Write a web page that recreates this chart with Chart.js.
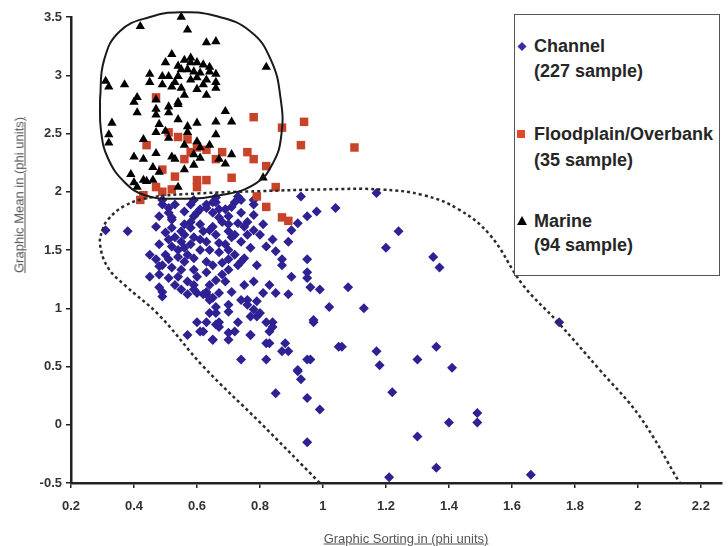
<!DOCTYPE html>
<html><head><meta charset="utf-8">
<script src="https://cdn.jsdelivr.net/npm/chart.js@4.4.1/dist/chart.umd.min.js"></script>
<style>
html,body{margin:0;padding:0;background:#fff;}
#wrap{position:relative;width:728px;height:546px;overflow:hidden;font-family:"Liberation Sans",Arial,sans-serif;background:#fff;}
canvas{position:absolute;left:0;top:0;}
.ttl{position:absolute;color:#555;font-size:13px;text-decoration:underline;white-space:nowrap;}
#xt{left:406px;top:538px;transform:translate(-50%,-50%);}
#yt{left:19px;top:195px;transform:translate(-50%,-50%) rotate(-90deg);}
#legend{position:absolute;left:514px;top:14px;width:206px;height:262px;border:1.5px solid #555;background:#fff;box-sizing:border-box;}
.li{position:absolute;left:19px;font-weight:bold;font-size:18px;color:#262626;line-height:24px;white-space:nowrap;}
#legend svg{position:absolute;left:0;top:0;}
</style></head>
<body>
<div id="wrap">
<canvas id="c" width="728" height="546"></canvas>
<div class="ttl" id="xt"></div>
<div class="ttl" id="yt"></div>
<div id="legend"></div>
</div>
<script>
// ---------- data ----------
const xTicks = [0.2,0.4,0.6,0.8,1.0,1.2,1.4,1.6,1.8,2.0,2.2];
const xTickLabels = ['0.2','0.4','0.6','0.8','1','1.2','1.4','1.6','1.8','2','2.2'];
const yTicks = [-0.5,0,0.5,1,1.5,2,2.5,3,3.5];
const yTickLabels = ['-0.5','0','0.5','1','1.5','2','2.5','3','3.5'];
const xTitle = 'Graphic Sorting in (phi units)';
const yTitle = 'Graphic Mean in (phi units)';
const seriesNames = ['Channel','Floodplain/Overbank','Marine'];
const seriesCounts = ['(227 sample)','(35 sample)','(94 sample)'];

const channelPoints = [
[0.31,1.67],[0.38,1.66],[0.45,1.46],[0.49,1.89],[0.51,1.86],[0.48,1.79],[0.52,1.78],[0.47,1.70],[0.52,1.69],[0.55,1.66],
[0.53,1.61],[0.55,1.57],[0.52,1.53],[0.56,1.52],[0.50,1.46],[0.54,1.44],[0.49,1.37],[0.52,1.35],[0.48,1.29],[0.51,1.26],
[0.54,1.27],[0.57,1.23],[0.58,1.89],[0.59,1.79],[0.63,1.86],[0.58,1.69],[0.62,1.66],[0.59,1.61],[0.63,1.57],[0.65,1.91],
[0.67,1.85],[0.65,1.70],[0.68,1.74],[0.70,1.79],[0.72,1.91],[0.74,1.93],[0.64,1.50],[0.67,1.48],[0.63,1.40],[0.65,1.37],
[0.68,1.39],[0.70,1.42],[0.59,1.33],[0.60,1.27],[0.66,1.24],[0.69,1.23],[0.72,1.63],[0.74,1.57],[0.72,1.46],[0.74,1.40],
[0.57,1.12],[0.63,1.14],[0.49,1.14],[0.53,1.20],[0.45,1.27],[0.48,1.36],[0.51,1.82],[0.52,1.76],[0.60,1.82],[0.63,1.89],
[0.66,1.91],[0.65,1.82],[0.67,1.78],[0.71,1.87],[0.74,1.82],[0.78,1.89],[0.78,1.80],[0.81,1.72],[0.73,1.73],[0.75,1.70],
[0.70,1.66],[0.71,1.61],[0.80,1.63],[0.82,1.53],[0.75,1.43],[0.79,1.37],[0.59,1.93],[0.66,1.95],[0.73,1.96],[0.78,1.93],
[0.49,1.93],[0.56,1.83],[0.58,1.74],[0.56,1.63],[0.58,1.55],[0.61,1.50],[0.59,1.43],[0.56,1.40],[0.55,1.33],[0.63,1.31],
[0.64,1.20],[0.70,1.33],[0.69,1.55],[0.66,1.63],[0.76,1.63],[0.77,1.52],[0.48,1.55],[0.51,1.59],[0.61,1.72],[0.69,1.85],
[0.85,1.49],[0.87,1.42],[0.87,1.37],[0.90,1.27],[0.95,1.42],[0.95,1.31],[0.95,1.26],[0.96,1.18],[0.99,1.16],[1.08,1.18],
[0.93,1.96],[1.04,1.86],[0.98,1.83],[0.95,1.79],[0.92,1.73],[0.90,1.67],[0.89,1.57],[0.84,1.59],[1.17,1.99],[1.24,1.66],
[1.20,1.52],[1.35,1.44],[1.37,1.35],[0.83,1.20],[0.89,1.12],[0.85,1.13],[0.60,1.13],[0.63,1.12],[0.67,1.13],[0.71,1.14],
[0.64,0.96],[0.66,0.96],[0.70,0.97],[0.65,1.09],[0.76,1.07],[0.79,1.06],[0.78,0.99],[0.79,0.93],[0.60,0.88],[0.62,0.80],
[0.66,0.86],[0.67,0.88],[0.73,0.88],[0.57,0.77],[0.65,0.73],[0.70,0.73],[0.72,0.80],[0.77,0.77],[0.84,0.88],[0.83,0.80],
[0.82,0.70],[0.88,0.70],[0.87,0.63],[0.97,0.88],[0.74,0.56],[0.82,0.56],[0.95,0.56],[0.92,0.46],[0.93,0.39],[0.85,0.27],
[0.95,0.23],[1.02,1.01],[1.13,1.00],[1.05,0.67],[1.17,0.63],[1.18,0.51],[1.30,0.56],[1.36,0.67],[1.41,0.49],[1.75,0.88],
[0.99,0.13],[1.22,0.28],[1.40,0.02],[1.49,0.10],[1.49,0.02],[1.30,-0.10],[0.95,-0.15],[1.21,-0.45],[1.36,-0.37],[1.66,-0.43],
[0.74,1.07],[0.76,1.03],[0.80,0.96],[0.70,1.03],[0.63,0.88],[0.67,0.84],[0.77,0.93],[0.82,0.88],[0.84,0.84],[0.61,0.80],
[0.65,0.73],[0.70,0.79],[0.77,0.77],[0.83,0.70],[0.89,0.63],[0.97,0.90],[1.06,0.67],[0.96,0.56],[0.92,0.47],[0.48,1.18],
[0.49,1.10],[0.59,1.16],[0.62,1.12],[0.64,1.07],[0.66,1.01],[0.54,1.50],[0.57,1.46],[0.51,1.42],[0.47,1.42],[0.61,1.59],
[0.64,1.67],[0.67,1.56],[0.70,1.50],[0.73,1.37],[0.68,1.29],[0.56,1.72],[0.61,1.85],[0.70,1.72],[0.76,1.74],[0.78,1.67],
[0.55,1.16],[0.59,1.20],[0.50,1.65],[0.53,1.89],[0.75,1.20],[0.78,1.23],[0.81,1.13]
];

const floodplainPoints = [
[0.47,2.81],[0.78,2.64],[0.87,2.55],[0.94,2.60],[0.93,2.40],[1.10,2.38],[0.44,2.40],[0.51,2.51],[0.54,2.47],[0.57,2.45],
[0.58,2.34],[0.60,2.38],[0.63,2.36],[0.68,2.34],[0.76,2.34],[0.78,2.28],[0.82,2.22],[0.49,2.19],[0.53,2.13],[0.60,2.10],
[0.60,2.04],[0.63,2.10],[0.71,2.12],[0.47,2.04],[0.49,2.00],[0.42,1.93],[0.85,2.04],[0.82,1.87],[0.87,1.78],[0.89,1.75],
[0.56,2.28],[0.66,2.28],[0.43,1.97],[0.52,2.02],[0.79,1.96]
];

const marinePoints = [
[0.55,3.50],[0.42,3.42],[0.57,3.39],[0.63,3.28],[0.66,3.29],[0.82,3.07],[0.52,3.18],[0.50,3.11],[0.56,3.13],[0.58,3.11],
[0.60,3.11],[0.62,3.09],[0.64,3.07],[0.54,3.08],[0.55,3.05],[0.57,3.05],[0.59,3.03],[0.61,3.02],[0.64,3.03],[0.66,3.01],
[0.45,3.01],[0.49,2.99],[0.51,2.99],[0.54,2.99],[0.58,2.96],[0.60,2.98],[0.63,2.96],[0.66,2.94],[0.31,2.95],[0.32,2.90],
[0.37,2.92],[0.45,2.94],[0.49,2.92],[0.52,2.90],[0.55,2.89],[0.60,2.88],[0.66,2.89],[0.41,2.81],[0.47,2.79],[0.54,2.77],
[0.40,2.77],[0.41,2.68],[0.47,2.71],[0.47,2.66],[0.51,2.73],[0.54,2.75],[0.51,2.68],[0.33,2.59],[0.32,2.49],[0.32,2.42],
[0.47,2.51],[0.50,2.52],[0.57,2.56],[0.57,2.51],[0.60,2.59],[0.66,2.60],[0.69,2.69],[0.71,2.60],[0.66,2.49],[0.51,2.46],
[0.60,2.43],[0.61,2.38],[0.40,2.30],[0.43,2.28],[0.47,2.33],[0.52,2.30],[0.59,2.32],[0.61,2.29],[0.67,2.28],[0.71,2.32],
[0.46,2.21],[0.59,2.23],[0.43,2.10],[0.44,2.09],[0.46,2.10],[0.41,2.04],[0.54,2.04],[0.81,2.12],[0.56,2.83],[0.63,2.83],
[0.48,2.58],[0.54,2.62],[0.43,2.45],[0.56,2.40],[0.53,2.28],[0.64,2.40],[0.39,2.15],[0.40,2.08],[0.48,2.17],[0.56,2.19],
[0.58,3.15],[0.53,2.94],[0.62,2.92],[0.69,2.24]
];

// hand-drawn envelopes (solid round one around Marine, dotted one around Channel)
const marineEnvelope = [
[0.292,2.79],[0.305,3.13],[0.356,3.38],[0.451,3.50],[0.546,3.54],[0.657,3.51],[0.768,3.38],[0.835,3.13],
[0.866,2.79],[0.868,2.49],[0.842,2.25],[0.786,2.07],[0.673,1.97],[0.530,1.94],[0.435,1.97],[0.371,2.08],
[0.317,2.29],[0.295,2.53],[0.292,2.79]
];
const channelEnvelope = [
[0.99,-0.50],[0.80,0.02],[0.62,0.50],[0.48,0.94],[0.37,1.20],[0.317,1.35],[0.292,1.55],[0.30,1.67],
[0.317,1.76],[0.371,1.88],[0.451,1.95],[0.60,1.985],[0.80,2.005],[1.00,2.02],[1.18,2.02],[1.32,1.97],
[1.43,1.85],[1.53,1.63],[1.635,1.20],[1.746,0.88],[1.879,0.47],[2.006,0.07],[2.133,-0.50]
];

// ---------- chart ----------
Chart.defaults.font.family = "'Liberation Sans', Arial, sans-serif";
const toXY = a => a.map(([x, y]) => ({x, y}));

new Chart(document.getElementById('c'), {
  type: 'scatter',
  data: {
    datasets: [
      {label: 'Marine envelope', data: toXY(marineEnvelope), showLine: true, borderColor: '#1a1a1a',
       borderWidth: 2, pointRadius: 0, tension: 0.45, clip: false, order: 0, capBezierPoints: false},
      {label: 'Channel envelope', data: toXY(channelEnvelope), showLine: true, borderColor: '#2a2a2a',
       borderWidth: 2.5, borderDash: [3, 3], pointRadius: 0, tension: 0.4, clip: false, order: 0, capBezierPoints: false},
      {label: seriesNames[2], data: toXY(marinePoints), pointStyle: 'triangle', pointRadius: 5.4,
       backgroundColor: '#000', borderColor: '#000', borderWidth: 0, clip: false, order: 1},
      {label: seriesNames[1], data: toXY(floodplainPoints), pointStyle: 'rect', pointRadius: 6,
       backgroundColor: '#c8432a', borderColor: '#c8432a', borderWidth: 0, clip: false, order: 2},
      {label: seriesNames[0], data: toXY(channelPoints), pointStyle: 'rectRot', pointRadius: 5,
       backgroundColor: '#2d2194', borderColor: '#2d2194', borderWidth: 0, clip: false, order: 3}
    ]
  },
  options: {
    responsive: false,
    animation: false,
    events: [],
    layout: {padding: {left: 0, right: 6, top: 17, bottom: 0}},
    plugins: {legend: {display: false}, tooltip: {enabled: false}},
    scales: {
      x: {
        type: 'linear', min: 0.2, max: 2.267,
        afterBuildTicks: s => { s.ticks = xTicks.map(v => ({value: v})); },
        afterFit: s => { s.height = 63; },
        ticks: {font: {size: 13, weight: 'bold'}, color: '#333', padding: 11, maxRotation: 0,
                callback: (v, i) => xTickLabels[i]},
        grid: {drawOnChartArea: false, drawTicks: true, tickLength: 5, color: '#222', lineWidth: 1.5},
        border: {display: true, color: '#222', width: 2.5}
      },
      y: {
        type: 'linear', min: -0.5, max: 3.5,
        afterBuildTicks: s => { s.ticks = yTicks.map(v => ({value: v})); },
        afterFit: s => { s.width = 71; },
        ticks: {font: {size: 13, weight: 'bold'}, color: '#333', padding: 4,
                callback: (v, i) => yTickLabels[i]},
        grid: {drawOnChartArea: false, drawTicks: true, tickLength: 5, color: '#222', lineWidth: 1.5},
        border: {display: true, color: '#222', width: 2.5}
      }
    }
  }
});

// ---------- titles and legend ----------
document.getElementById('xt').textContent = xTitle;
document.getElementById('yt').textContent = yTitle;
const lg = document.getElementById('legend');
const rowTops = [[19, 44], [107, 133], [194, 218]];
rowTops.forEach((t, i) => {
  const a = document.createElement('div'); a.className = 'li'; a.style.top = t[0] + 'px'; a.textContent = seriesNames[i]; lg.appendChild(a);
  const b = document.createElement('div'); b.className = 'li'; b.style.top = t[1] + 'px'; b.textContent = seriesCounts[i]; lg.appendChild(b);
});
lg.insertAdjacentHTML('beforeend',
  '<svg width="206" height="262" xmlns="http://www.w3.org/2000/svg">' +
  '<polygon points="7,27 11.5,31.5 7,36 2.5,31.5" fill="#3a2aa8"/>' +
  '<rect x="2" y="115" width="8" height="8" fill="#e04a2a"/>' +
  '<polygon points="7,201 12,210 2,210" fill="#000"/>' +
  '</svg>');
</script>
</body></html>
